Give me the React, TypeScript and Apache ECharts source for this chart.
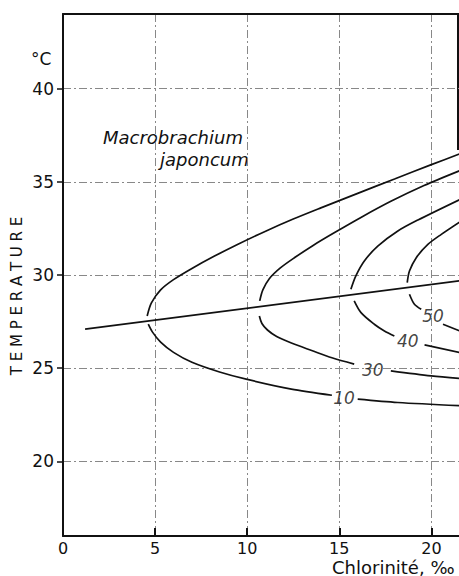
import React, { useEffect, useRef } from "react";
import * as echarts from "echarts";

// Axis ticks
const xTicks = [0, 5, 10, 15, 20];
const yTicks = [20, 25, 30, 35, 40];

// Straight line (optimum line)
const optimumLine = [[1.2, 27.1], [21.6, 29.7]];

// Contour 10
const c10Upper = [[4.57, 27.8], [4.8, 28.5], [5.3, 29.2], [6.0, 29.75], [7.0, 30.35], [8.2, 31.0], [9.5, 31.65], [11.0, 32.35], [12.5, 33.0], [14.0, 33.6], [16.0, 34.38], [18.0, 35.15], [20.0, 35.92], [21.55, 36.5]];
const c10LowerA = [[4.63, 27.36], [4.85, 26.95], [5.3, 26.4], [6.0, 25.85], [7.0, 25.32], [8.5, 24.8], [10.0, 24.4], [12.4, 23.88], [14.6, 23.55]];
const c10LowerB = [[16.0, 23.34], [18.17, 23.16], [21.55, 22.99]];

// Contour 30
const c30Upper = [[10.68, 28.61], [10.85, 29.2], [11.2, 29.8], [11.8, 30.38], [12.6, 30.95], [13.6, 31.6], [14.7, 32.25], [16.2, 33.1], [17.8, 33.95], [19.6, 34.8], [21.55, 35.6]];
const c30LowerA = [[10.66, 27.8], [10.8, 27.4], [11.1, 27.05], [11.6, 26.7], [12.4, 26.35], [13.5, 25.95], [14.6, 25.56], [15.81, 25.22]];
const c30LowerB = [[17.8, 24.86], [19.99, 24.59], [21.55, 24.45]];

// Contour 40
const c40Upper = [[15.63, 29.23], [15.9, 29.95], [16.36, 30.75], [17.09, 31.55], [18.18, 32.36], [19.27, 32.95], [21.55, 34.05]];
const c40LowerA = [[15.81, 28.61], [16.18, 27.98], [16.9, 27.36], [17.45, 27.0], [17.99, 26.73]];
const c40LowerB = [[19.63, 26.25], [21.55, 25.84]];

// Contour 50
const c50Upper = [[18.69, 29.59], [18.81, 30.21], [19.18, 30.93], [19.81, 31.64], [20.54, 32.18], [21.55, 32.85]];
const c50LowerA = [[18.81, 28.97], [19.08, 28.43], [19.45, 28.16]];
const c50LowerB = [[20.63, 27.36], [21.55, 27.0]];

// Contour labels
const contourLabelNames = ["10", "30", "40", "50"];
const contourLabelPos = [[15.26, 23.38], [16.82, 24.88], [18.72, 26.44], [20.09, 27.8]];

const FONT = "DejaVu Sans";

export default function App() {
  const ref = useRef<HTMLDivElement>(null);
  useEffect(() => {
    const chart = echarts.init(ref.current!, null, { renderer: "svg" });
    const L = 63, T = 14, R = 0, B = 40;
    const branch = (data: number[][], smooth: boolean | number = 0.3) => ({
      type: "line",
      data,
      showSymbol: false,
      symbol: "none",
      smooth,
      clip: true,
      silent: true,
      lineStyle: { color: "#111", width: 1.7 },
    });
    const gridLine = { show: true, lineStyle: { color: "#888", width: 1, type: [8, 3, 2, 3] } };
    const option: any = {
      animation: false,
      backgroundColor: "#fff",
      grid: { left: L, top: T, right: R, bottom: B, show: false },
      xAxis: [
        {
          type: "value",
          min: 0,
          max: 21.5,
          interval: 5,
          axisLine: { show: true, onZero: false, lineStyle: { color: "#111", width: 2 } },
          axisTick: { show: true, inside: true, length: 8, customValues: xTicks, lineStyle: { color: "#111", width: 2 } },
          axisLabel: {
            customValues: xTicks,
            formatter: (v: number) => (v % 5 === 0 ? String(v) : ""),
            margin: 4,
            fontSize: 16,
            fontFamily: FONT,
            color: "#111",
          },
          splitLine: gridLine,
        },
        {
          type: "value",
          position: "top",
          min: 0,
          max: 21.5,
          axisLine: { show: true, lineStyle: { color: "#111", width: 2 } },
          axisTick: { show: false },
          axisLabel: { show: false },
          splitLine: { show: false },
        },
      ],
      yAxis: {
        type: "value",
        min: 16,
        max: 44,
        axisLine: { show: true, onZero: false, lineStyle: { color: "#111", width: 2 } },
        axisTick: { show: true, inside: false, length: 6, customValues: yTicks, lineStyle: { color: "#111", width: 1.5 } },
        axisLabel: {
          customValues: yTicks,
          formatter: (v: number) => (v % 5 === 0 ? String(v) : ""),
          margin: 9,
          fontSize: 17,
          fontFamily: FONT,
          color: "#111",
        },
        splitLine: gridLine,
      },
      series: [
        branch(optimumLine, false),
        branch(c10Upper),
        branch(c10LowerA),
        branch(c10LowerB),
        branch(c30Upper),
        branch(c30LowerA),
        branch(c30LowerB),
        branch(c40Upper),
        branch(c40LowerA),
        branch(c40LowerB),
        branch(c50Upper),
        branch(c50LowerA),
        branch(c50LowerB),
        {
          type: "scatter",
          silent: true,
          symbolSize: 1,
          itemStyle: { color: "rgba(0,0,0,0)" },
          data: contourLabelNames.map((n, i) => ({ name: n, value: contourLabelPos[i] })),
          label: {
            show: true,
            position: "inside",
            formatter: "{b}",
            fontSize: 17,
            fontStyle: "italic",
            fontFamily: FONT,
            color: "#111",
          },
        },
      ],
      graphic: [
        {
          type: "line",
          silent: true,
          shape: { x1: 458, y1: T, x2: 458, y2: 150 },
          style: { stroke: "#111", lineWidth: 2 },
        },
        {
          type: "text",
          left: 103,
          top: 128,
          style: { text: "Macrobrachium", font: `italic 18px "${FONT}"`, fill: "#111" },
        },
        {
          type: "text",
          left: 160,
          top: 150,
          style: { text: "japoncum", font: `italic 18px "${FONT}"`, fill: "#111" },
        },
        {
          type: "text",
          left: 31,
          top: 50,
          style: { text: "°C", font: `17px "${FONT}"`, fill: "#111" },
        },
        {
          type: "text",
          x: 17,
          y: 296,
          rotation: Math.PI / 2,
          style: {
            text: "T E M P E R A T U R E",
            font: `15px "${FONT}"`,
            fill: "#111",
            align: "center",
            verticalAlign: "middle",
          },
        },
        {
          type: "text",
          left: 332,
          top: 558,
          style: { text: "Chlorinité, ‰", font: `18px "${FONT}"`, fill: "#111" },
        },
      ],
    };
    chart.setOption(option);
    return () => chart.dispose();
  }, []);
  return (
    <div
      ref={ref}
      style={{ position: "fixed", left: 0, top: 0, width: 459, height: 576, background: "#fff" }}
    />
  );
}
